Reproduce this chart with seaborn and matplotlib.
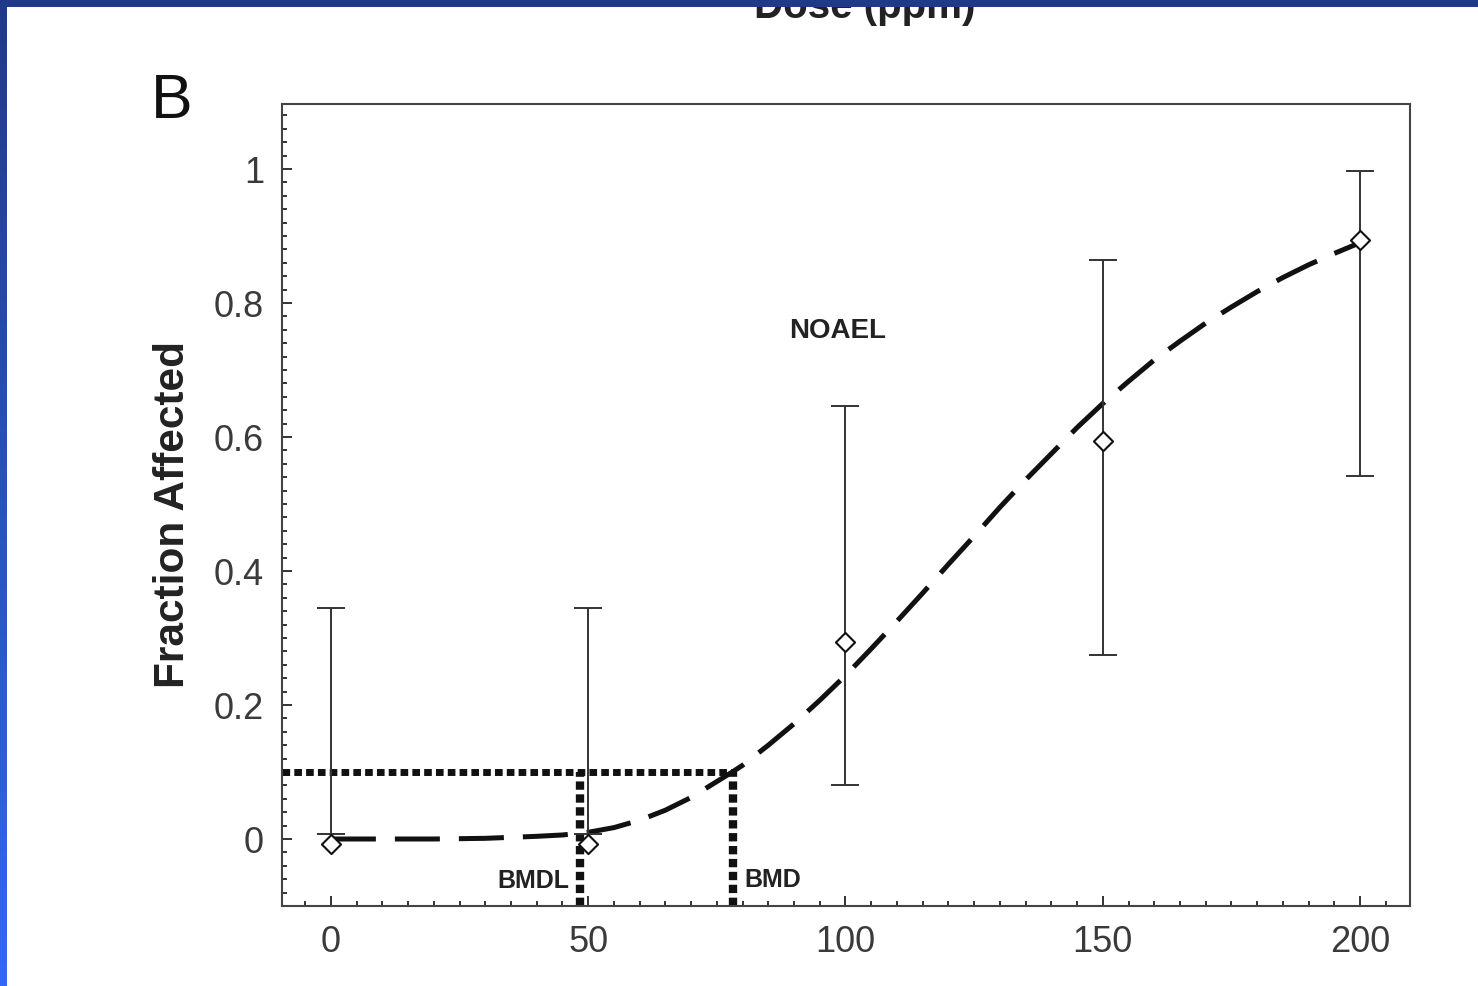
import numpy as np
import pandas as pd
import matplotlib
matplotlib.use("Agg")
import matplotlib.pyplot as plt
import seaborn as sns
from matplotlib.ticker import MultipleLocator
from matplotlib.patches import Rectangle

# observed data (dose, fraction affected, error bar limits)
dose = [0, 50, 100, 150, 200]
frac = [-0.008, -0.008, 0.294, 0.594, 0.894]
err_lo = [0.007, 0.007, 0.080, 0.274, 0.542]
err_hi = [0.345, 0.345, 0.647, 0.864, 0.997]

# fitted curve
curve_x = [0, 10, 20, 30, 40, 45, 50, 55, 60, 65, 70, 78, 80, 85, 90, 95, 100,
           105, 110, 115, 120, 125, 130, 135, 140, 145, 150, 155, 160, 165, 170,
           175, 180, 185, 190, 195, 200]
curve_y = [0.0, 0.0, 0.0, 0.001, 0.004, 0.006, 0.010, 0.017, 0.028, 0.043, 0.062,
           0.100, 0.110, 0.140, 0.172, 0.207, 0.244, 0.284, 0.325, 0.367, 0.410,
           0.452, 0.495, 0.536, 0.575, 0.614, 0.650, 0.683, 0.715, 0.743, 0.770,
           0.794, 0.817, 0.838, 0.857, 0.874, 0.890]

bmr = 0.1
bmdl = 48.5
bmd = 78.1

xticks = [0, 50, 100, 150, 200]
yticks = [0, 0.2, 0.4, 0.6, 0.8, 1.0]
ytick_labels = ['0', '0.2', '0.4', '0.6', '0.8', '1']

sns.set_style("white")
plt.rcParams['font.family'] = ['Liberation Sans', 'DejaVu Sans']

fig = plt.figure(figsize=(14.78, 9.87), dpi=100)
ax = fig.add_axes([282/1478, 80/987, (1410-282)/1478, (907-105)/987])

df_curve = pd.DataFrame({'x': curve_x, 'y': curve_y})
sns.lineplot(data=df_curve, x='x', y='y', ax=ax, color='#111111', lw=3.6,
             estimator=None, sort=False, zorder=3)
ln = ax.lines[-1]
ln.set_dashes((9, 3.8))
ln.set_dash_capstyle('butt')

# BMD dotted guides
ax.plot([-9.5, bmd], [bmr, bmr], color='#111111', lw=5, dashes=(1.1, 0.6),
        dash_capstyle='butt', zorder=2)
for xv in (bmdl, bmd):
    ax.plot([xv, xv], [-0.1, bmr], color='#111111', lw=6, dashes=(1.0, 0.55),
            dash_capstyle='butt', zorder=2)

lo = np.array(err_lo)
hi = np.array(err_hi)
ax.errorbar(dose, (lo + hi) / 2, yerr=(hi - lo) / 2,
            fmt='none', ecolor='#333333', elinewidth=1.4, capsize=10, capthick=1.4,
            zorder=4)

df_pts = pd.DataFrame({'dose': dose, 'frac': frac})
sns.scatterplot(data=df_pts, x='dose', y='frac', ax=ax, marker='D', s=95,
                facecolor='white', edgecolor='#111111', linewidth=1.5, zorder=5)

ax.text(98.4, 0.749, 'NOAEL', fontsize=20, fontweight='bold', ha='center',
        va='baseline', color='#222222')
ax.text(80.4, -0.07, 'BMD', fontsize=18, fontweight='bold', ha='left',
        va='baseline', color='#222222')
ax.text(46.4, -0.071, 'BMDL', fontsize=18, fontweight='bold', ha='right',
        va='baseline', color='#222222')

ax.set_xlim(-9.5, 209.7)
ax.set_ylim(-0.1, 1.097)
ax.set_xticks(xticks)
ax.set_yticks(yticks)
ax.set_yticklabels(ytick_labels)
ax.xaxis.set_minor_locator(MultipleLocator(5))
ax.yaxis.set_minor_locator(MultipleLocator(0.02))
ax.tick_params(which='both', direction='in', bottom=True, left=True, top=False,
               right=False, color='#333333', width=1.4)
ax.tick_params(which='major', length=7, labelsize=26, labelcolor='#3a3a3a', pad=13)
ax.tick_params(which='minor', length=3.6)
for s in ax.spines.values():
    s.set_color('#444444')
    s.set_linewidth(1.5)
ax.set_xlabel('')
ax.set_ylabel('')

fig.text(173/1478, 1 - 514/987, 'Fraction Affected', rotation=90, fontsize=30.5,
         fontweight='bold', ha='center', va='center', color='#222222')
fig.text(172/1478, 1 - 118/987, 'B', fontsize=45, ha='center', va='baseline',
         color='#111111')
fig.text(865/1478, 1 - 18/987, 'Dose (ppm)', fontsize=29, fontweight='bold',
         ha='center', va='baseline', color='#222222')

# slide border
fig.patches.append(Rectangle((0, 1 - 8/987), 1, 8/987, transform=fig.transFigure,
                             facecolor='#1f3a8a', edgecolor='none', zorder=10))
bax = fig.add_axes([0, 0, 7/1478, 1])
grad = np.linspace(0, 1, 256).reshape(-1, 1)
cmap = matplotlib.colors.LinearSegmentedColormap.from_list('b', ['#1f3a8a', '#3468f2'])
bax.imshow(grad, aspect='auto', cmap=cmap, extent=[0, 1, 1, 0])
bax.axis('off')
bax.set_zorder(10)

fig.savefig('out.png', dpi=100)
